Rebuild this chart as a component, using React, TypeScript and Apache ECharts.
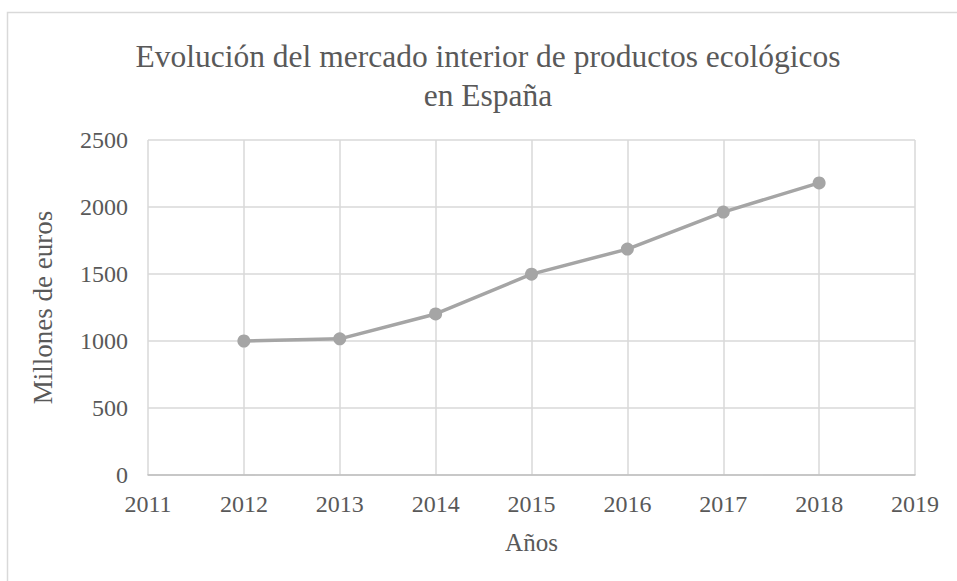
import React, { useEffect, useRef } from "react";
import * as echarts from "echarts";

const titleLines = ["Evolución del mercado interior de productos ecológicos", "en España"];
const years = [2012, 2013, 2014, 2015, 2016, 2017, 2018];
const values = [1000, 1016, 1202, 1499, 1686, 1962, 2180];
const xAxisName = "Años";
const yAxisName = "Millones de euros";

const FONT = "'Liberation Serif', 'Times New Roman', serif";
const TXT = "#595959";

export default function App() {
  const ref = useRef<HTMLDivElement>(null);
  useEffect(() => {
    if (!ref.current) return;
    const chart = echarts.init(ref.current, undefined, { renderer: "svg" });
    chart.setOption({
      animation: false,
      backgroundColor: "#ffffff",
      textStyle: { fontFamily: FONT, color: TXT },
      graphic: [
        {
          type: "rect",
          shape: { x: 7.5, y: 12.5, width: 1200, height: 1200 },
          style: { fill: "none", stroke: "#d9d9d9", lineWidth: 1.5 },
          silent: true,
        },
        {
          type: "text",
          x: 488,
          y: 37,
          style: {
            text: titleLines.join("\n"),
            fontFamily: FONT,
            fontSize: 31.5,
            lineHeight: 39,
            fill: TXT,
            textAlign: "center",
            textVerticalAlign: "top",
          },
        },
      ],
      grid: { left: 148, top: 140, right: 42, bottom: 106 },
      xAxis: {
        type: "value",
        min: 2011,
        max: 2019,
        interval: 1,
        name: xAxisName,
        nameLocation: "middle",
        nameGap: 55,
        nameTextStyle: { fontFamily: FONT, fontSize: 25, color: TXT },
        axisLine: { show: true, lineStyle: { color: "#bfbfbf", width: 1.5 } },
        axisTick: { show: false },
        axisLabel: {
          fontFamily: FONT,
          fontSize: 24,
          color: TXT,
          margin: 17,
          formatter: (v: number) => String(v),
        },
        splitLine: { show: true, lineStyle: { color: "#d9d9d9", width: 1.5 } },
      },
      yAxis: {
        type: "value",
        min: 0,
        max: 2500,
        interval: 500,
        name: yAxisName,
        nameLocation: "middle",
        nameGap: 92,
        nameTextStyle: { fontFamily: FONT, fontSize: 27, color: TXT },
        axisLine: { show: false },
        axisTick: { show: false },
        axisLabel: {
          fontFamily: FONT,
          fontSize: 24,
          color: TXT,
          margin: 20,
          formatter: (v: number) => String(v),
        },
        splitLine: { show: true, lineStyle: { color: "#d9d9d9", width: 1.5 } },
      },
      series: [
        {
          type: "line",
          data: years.map((y, i) => [y, values[i]]),
          lineStyle: { color: "#a5a5a5", width: 3.5 },
          itemStyle: { color: "#a5a5a5" },
          symbol: "circle",
          symbolSize: 13,
          z: 5,
        },
      ],
    });
    return () => chart.dispose();
  }, []);
  return (
    <div
      ref={ref}
      style={{ position: "fixed", left: 0, top: 0, width: 957, height: 581 }}
    />
  );
}
